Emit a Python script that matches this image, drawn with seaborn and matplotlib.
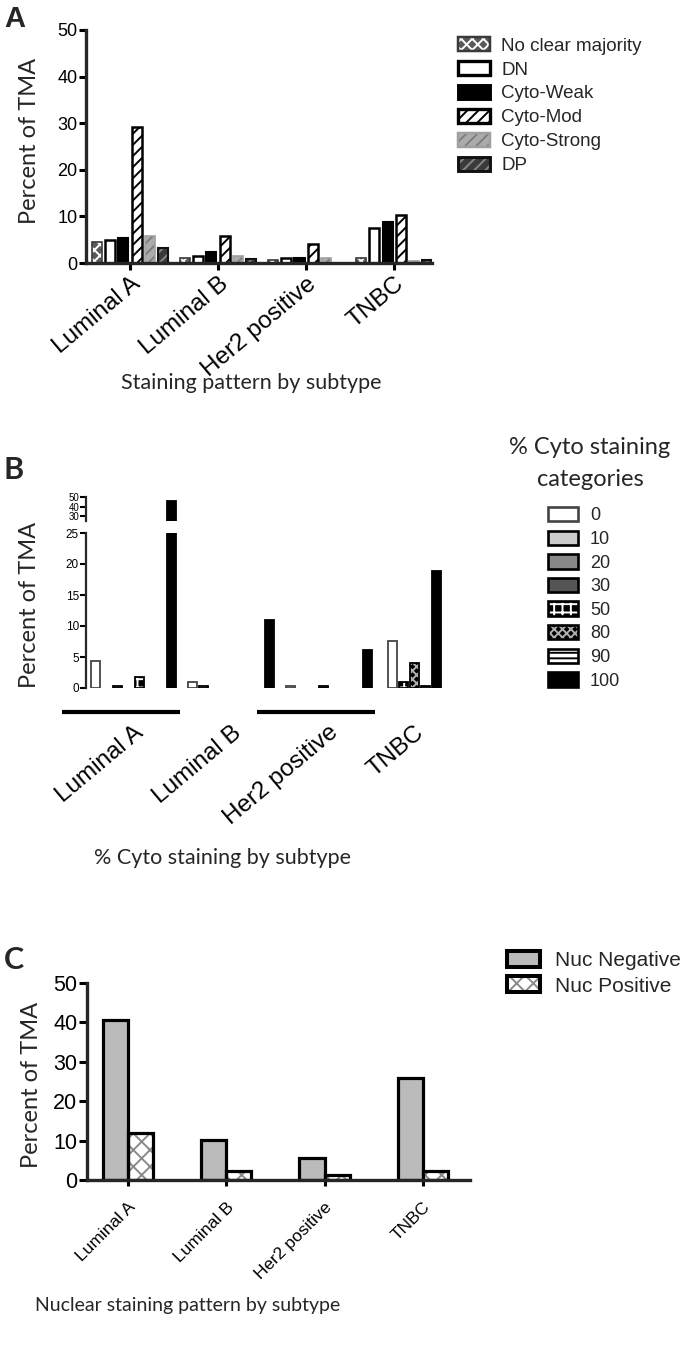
"""TMA staining figure, panels A-C"""

import numpy as np
import pandas as pd
import matplotlib.pyplot as plt
import seaborn as sns
from matplotlib.patches import Patch, Rectangle
from matplotlib.colors import to_rgb

sns.set_theme(style="ticks")
plt.rcParams["font.family"] = ["Liberation Sans", "DejaVu Sans"]
plt.rcParams["hatch.linewidth"] = 1.4

subtypes = ["Luminal A", "Luminal B", "Her2 positive", "TNBC"]

# A: staining pattern
pattern_cats = ["No clear majority", "DN", "Cyto-Weak", "Cyto-Mod", "Cyto-Strong", "DP"]
pattern_lum_a = [4.5, 4.9, 5.4, 29.2, 5.8, 3.2]
pattern_lum_b = [1.0, 1.4, 2.3, 5.8, 1.4, 0.9]
pattern_her2 = [0.6, 1.0, 1.0, 4.1, 1.0, 0.0]
pattern_tnbc = [1.0, 7.6, 8.9, 10.2, 0.5, 0.6]

# B: % cyto staining
cyto_cats = ["0", "10", "20", "30", "50", "80", "90", "100"]
cyto_lum_a = [4.4, 0, 0.4, 0, 1.8, 0, 0, 46.0]
cyto_lum_b = [0.9, 0.4, 0, 0, 0, 0, 0, 11.0]
cyto_her2 = [0.4, 0, 0, 0.4, 0, 0, 0, 6.2]
cyto_tnbc = [7.6, 0, 0, 0, 0.9, 4.0, 0.4, 18.9]

# C: nuclear staining
nuc_cats = ["Nuc Negative", "Nuc Positive"]
nuc_negative = [40.5, 10.1, 5.7, 26.0]
nuc_positive = [11.9, 2.2, 1.3, 2.2]

# where the subtype groups sit on panel B's x axis (TNBC group sits closer)
b_group_x = [0.0, 1.0, 2.0, 2.88]

# fill, hatch, hatch colour, edge colour, edge width
style_a = {
    "No clear majority": ("#5a5a5a", "xxx", "white", "#3a3a3a", 1.2),
    "DN": ("white", None, "black", "black", 1.8),
    "Cyto-Weak": ("black", None, "black", "black", 1.5),
    "Cyto-Mod": ("white", "///", "black", "black", 1.8),
    "Cyto-Strong": ("#ababab", "///", "#7d7d7d", "#a0a0a0", 1.2),
    "DP": ("#3a3a3a", "///", "#858585", "#111111", 1.5),
}
style_b = {
    "0": ("white", None, "#444444", "#444444", 1.3),
    "10": ("#cccccc", None, "black", "black", 1.3),
    "20": ("#888888", None, "black", "black", 1.3),
    "30": ("#555555", None, "black", "black", 1.3),
    "50": ("black", "++", "white", "black", 1.3),
    "80": ("black", "xxxx", "#b0b0b0", "black", 1.3),
    "90": ("white", "---", "black", "black", 1.3),
    "100": ("black", None, "black", "black", 1.3),
}
style_c = {
    "Nuc Negative": ("#bbbbbb", None, "black", "black", 2.3),
    "Nuc Positive": ("white", "xx", "#8a8a8a", "black", 2.3),
}


def long_frame(groups, cats, name):
    rows = []
    for subtype, vals in zip(subtypes, groups):
        for c, v in zip(cats, vals):
            rows.append({"subtype": subtype, name: c, "pct": v})
    return pd.DataFrame(rows)


df_a = long_frame([pattern_lum_a, pattern_lum_b, pattern_her2, pattern_tnbc], pattern_cats, "pattern")
df_b = long_frame([cyto_lum_a, cyto_lum_b, cyto_her2, cyto_tnbc], cyto_cats, "cyto")
df_b["x"] = df_b["subtype"].map(dict(zip(subtypes, b_group_x)))
df_c = pd.DataFrame({
    "subtype": subtypes * 2,
    "nuc": [nuc_cats[0]] * 4 + [nuc_cats[1]] * 4,
    "pct": nuc_negative + nuc_positive,
})


def key_palette(cats):
    cols = sns.color_palette("husl", len(cats))
    return dict(zip(cats, cols))


def restyle(ax, palette, styles):
    # bars come out in key colours; swap each to its real look
    keys = list(palette.keys())
    keycols = np.array([palette[k] for k in keys])
    for p in list(ax.patches):
        fc = np.array(to_rgb(p.get_facecolor()))
        cat = keys[int(np.argmin(((keycols - fc) ** 2).sum(axis=1)))]
        fill, hatch, hc, ec, lw = styles[cat]
        h = p.get_height()
        if h <= 0:
            p.set_visible(False)
            continue
        p.set_facecolor(fill)
        p.set_edgecolor(hc)
        p.set_linewidth(0)
        if hatch:
            p.set_hatch(hatch)
        ax.add_patch(Rectangle((p.get_x(), p.get_y()), p.get_width(), h,
                               fill=False, edgecolor=ec, lw=lw, zorder=p.get_zorder() + 0.1))


def handles_for(cats, styles):
    hs = []
    for c in cats:
        fill, hatch, hc, ec, lw = styles[c]
        hs.append((Patch(facecolor=fill, hatch=hatch, edgecolor=hc, lw=0),
                   Patch(fill=False, edgecolor=ec, lw=lw + 0.6)))
    return hs


W, H = 685, 1350
fig = plt.figure(figsize=(W / 100, H / 100), dpi=100)


def px_axes(left, top, right, bottom):
    return fig.add_axes([left / W, 1 - bottom / H, (right - left) / W, (bottom - top) / H])


def fig_text(x, y, s, **kw):
    fig.text(x / W, 1 - y / H, s, **kw)


LATO = ["Lato", "DejaVu Sans"]

# ---------- A ----------
ax_a = px_axes(86, 30, 432, 263)
pal_a = key_palette(pattern_cats)
sns.barplot(data=df_a, x="subtype", y="pct", hue="pattern", order=subtypes,
            hue_order=pattern_cats, palette=pal_a, width=0.9, gap=0.24,
            errorbar=None, legend=False, ax=ax_a)
restyle(ax_a, pal_a, style_a)
ax_a.set_xlim(-0.5, 3.43)
ax_a.set_ylim(0, 50)
ax_a.set_yticks([0, 10, 20, 30, 40, 50])
sns.despine(ax=ax_a)
for s in ["left", "bottom"]:
    ax_a.spines[s].set_linewidth(2.4)
ax_a.tick_params(axis="y", length=5, width=2.2, labelsize=13, pad=1, colors="black")
ax_a.tick_params(axis="x", length=5, width=2.2, labelsize=17.5, pad=2, colors="black")
ax_a.set_xticks(range(4))
ax_a.set_xticklabels(subtypes, rotation=40, ha="right", rotation_mode="anchor")
ax_a.set_xlabel("")
ax_a.set_ylabel("")
fig_text(30, 141, "Percent of TMA", rotation=90, ha="center", va="center", family=LATO, size=17)
fig_text(251, 383, "Staining pattern by subtype", ha="center", va="center", family=LATO, size=15.5)
fig_text(4, 19, "A", ha="left", va="center", size=21, weight="bold")

fig.legend(handles_for(pattern_cats, style_a), pattern_cats,
           loc="upper left", bbox_to_anchor=(458 / W, 1 - 37 / H),
           frameon=False, fontsize=13.5, handlelength=1.7, handleheight=0.78,
           labelspacing=0.34, handletextpad=0.6, borderpad=0, borderaxespad=0)

# ---------- B (broken axis) ----------
ax_bt = px_axes(86, 497, 475, 521)
ax_bb = px_axes(86, 533, 475, 688)
pal_b = key_palette(cyto_cats)
tnbc_cats = [c for c, v in zip(cyto_cats, cyto_tnbc) if v > 0]
df_b_main = df_b[df_b["subtype"] != "TNBC"]
df_b_tnbc = df_b[(df_b["subtype"] == "TNBC") & (df_b["pct"] > 0)]
for ax in (ax_bt, ax_bb):
    sns.barplot(data=df_b_main, x="x", y="pct", hue="cyto", native_scale=True,
                hue_order=cyto_cats, palette=pal_b, width=0.9, gap=0.18,
                errorbar=None, legend=False, ax=ax)
    # TNBC only has the non-empty categories side by side
    sns.barplot(data=df_b_tnbc, x="x", y="pct", hue="cyto", native_scale=True,
                hue_order=tnbc_cats, palette={c: pal_b[c] for c in tnbc_cats},
                width=0.9 * len(tnbc_cats) / len(cyto_cats), gap=0.18,
                errorbar=None, legend=False, ax=ax)
    restyle(ax, pal_b, style_b)
    ax.set_xlim(-0.487, 3.5)
    sns.despine(ax=ax, bottom=True)
    ax.spines["left"].set_linewidth(1.6)
    ax.set_xlabel("")
    ax.set_ylabel("")
ax_bt.set_ylim(25, 50)
ax_bt.set_yticks([30, 40, 50])
ax_bt.tick_params(axis="y", length=4, width=1.5, labelsize=7, pad=0.5, colors="black")
ax_bt.tick_params(axis="x", length=0, labelbottom=False)
ax_bb.set_ylim(0, 25)
ax_bb.set_yticks([0, 5, 10, 15, 20, 25])
ax_bb.tick_params(axis="y", length=4, width=1.5, labelsize=8.5, pad=1, colors="black")
ax_bb.tick_params(axis="x", length=0, labelsize=17.5, pad=24, colors="black")
ax_bb.set_xticks(b_group_x)
ax_bb.set_xticklabels(subtypes, rotation=40, ha="right", rotation_mode="anchor")
# grouping bars under Luminal A and Her2 positive
tr = ax_bb.get_xaxis_transform()
for g in (b_group_x[0], b_group_x[2]):
    ax_bb.plot([g - 0.73, g + 0.48], [-0.155, -0.155], transform=tr, clip_on=False,
               color="black", lw=3, solid_capstyle="butt")
fig_text(30, 605, "Percent of TMA", rotation=90, ha="center", va="center", family=LATO, size=17)
fig_text(222, 858, "% Cyto staining by subtype", ha="center", va="center", family=LATO, size=15.5)
fig_text(4, 470, "B", ha="left", va="center", size=22, weight="bold", family=LATO)
fig_text(590, 448, "% Cyto staining", ha="center", va="center", family=LATO, size=17)
fig_text(590, 479, "categories", ha="center", va="center", family=LATO, size=17)
fig.legend(handles_for(cyto_cats, style_b), cyto_cats,
           loc="upper left", bbox_to_anchor=(548 / W, 1 - 507 / H),
           frameon=False, fontsize=13, handlelength=1.67, handleheight=0.85,
           labelspacing=0.34, handletextpad=0.65, borderpad=0, borderaxespad=0)

# ---------- C ----------
ax_c = px_axes(87, 983, 470, 1180)
pal_c = key_palette(nuc_cats)
sns.barplot(data=df_c, x="subtype", y="pct", hue="nuc", order=subtypes,
            hue_order=nuc_cats, palette=pal_c, width=0.51, gap=0,
            errorbar=None, legend=False, ax=ax_c)
restyle(ax_c, pal_c, style_c)
ax_c.set_xlim(-0.417, 3.48)
ax_c.set_ylim(0, 50)
ax_c.set_yticks([0, 10, 20, 30, 40, 50])
sns.despine(ax=ax_c)
for s in ["left", "bottom"]:
    ax_c.spines[s].set_linewidth(2.4)
ax_c.tick_params(axis="y", length=6, width=2.2, labelsize=15.5, pad=1, colors="black")
ax_c.tick_params(axis="x", length=4, width=2.2, labelsize=12.5, pad=10, colors="black")
ax_c.set_xticks(range(4))
ax_c.set_xticklabels(subtypes, rotation=45, ha="right", rotation_mode="anchor")
ax_c.set_xlabel("")
ax_c.set_ylabel("")
fig_text(32, 1085, "Percent of TMA", rotation=90, ha="center", va="center", family=LATO, size=17)
fig_text(188, 1306, "Nuclear staining pattern by subtype", ha="center", va="center",
         family=LATO, size=14)
fig_text(4, 960, "C", ha="left", va="center", size=22, weight="bold", family=LATO)
fig.legend(handles_for(nuc_cats, style_c), nuc_cats,
           loc="upper left", bbox_to_anchor=(507 / W, 1 - 951 / H),
           frameon=False, fontsize=15, handlelength=1.6, handleheight=0.8,
           labelspacing=0.3, handletextpad=0.7, borderpad=0, borderaxespad=0)

fig.savefig("out.png", dpi=100)
